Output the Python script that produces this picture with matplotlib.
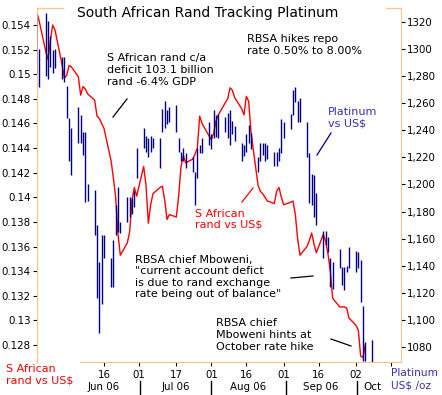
import numpy as np
import pandas as pd
import matplotlib
matplotlib.use("Agg")
import matplotlib.pyplot as plt
import matplotlib.dates as mdates
from matplotlib.lines import Line2D

# ---- data ----
dates = pd.bdate_range("2006-05-18", "2006-10-09")

rand_usd = [
    0.1551, 0.1545, 0.1519, 0.1512, 0.1527, 0.1540, 0.1536, 0.1508, 0.1497, 0.1499,
    0.1507, 0.1506, 0.1498, 0.1483, 0.1490, 0.1488, 0.1484, 0.1479, 0.1466, 0.1464,
    0.1460, 0.1456, 0.1430, 0.1416, 0.1400, 0.1370, 0.1353, 0.1363, 0.1372, 0.1398,
    0.1408, 0.1401,
    0.1425, 0.1410, 0.1379, 0.1394, 0.1403, 0.1408, 0.1409, 0.1398, 0.1382, 0.1386,
    0.1384, 0.1401, 0.1425, 0.1434, 0.1428, 0.1431, 0.1435, 0.1440, 0.1466, 0.1460,
    0.1450,
    0.1447, 0.1452, 0.1462, 0.1467, 0.1477, 0.1480, 0.1489, 0.1487, 0.1481, 0.1472,
    0.1467, 0.1482, 0.1478, 0.1453, 0.1410, 0.1405, 0.1403, 0.1400, 0.1397, 0.1395,
    0.1405, 0.1408, 0.1400,
    0.1394, 0.1396, 0.1397, 0.1386, 0.1366, 0.1353, 0.1360, 0.1365, 0.1371, 0.1362,
    0.1355, 0.1370, 0.1364, 0.1354, 0.1340, 0.1318, 0.1311, 0.1311, 0.1311, 0.1310,
    0.1302,
    0.1296, 0.1292, 0.1271, 0.1270, 0.1280, np.nan,
]

plat_high = [
    1327, 1300, 1327, 1321, 1310, 1299, 1300, 1294, 1294, 1273,
    1249, 1242, 1257, 1251, 1239, 1239, 1200, 1196, 1170, 1143, 1163, 1163,
    1146, 1159, 1185, 1198, 1172, 1191, 1191, 1190, 1195, 1227,
    1242, 1236, 1234, 1236, 1234, 1234, 1256, 1262, 1255, 1257, 1259, 1234,
    1224, 1227, 1223, 1220, 1209, 1227, 1229, 1234, 1246,
    1237, 1255, 1251, 1252, 1250, 1253, 1255, 1247, 1243, 1231, 1229, 1237,
    1244, 1238, 1220, 1231, 1231, 1231, 1229, 1224, 1224, 1227, 1248,
    1246, 1252, 1270, 1272, 1262, 1264, 1246, 1223, 1208, 1207, 1194, 1166,
    1166, 1161, 1146, 1143, 1152, 1139, 1139, 1140, 1154,
    1151, 1150, 1144, 1110, 1084, 1085,
]
plat_low = [
    1282, 1272, 1280, 1278, 1287, 1282, 1286, 1278, 1276, 1249,
    1217, 1207, 1231, 1231, 1222, 1187, 1188, 1163, 1116, 1090, 1112, 1146,
    1124, 1124, 1163, 1165, 1164, 1172, 1176, 1178, 1183, 1205,
    1227, 1224, 1220, 1224, 1227, 1212, 1239, 1242, 1245, 1246, 1239, 1224,
    1217, 1217, 1212, 1209, 1185, 1205, 1223, 1223, 1229,
    1226, 1234, 1235, 1234, 1239, 1234, 1229, 1237, 1232, 1217, 1221, 1224,
    1231, 1226, 1209, 1217, 1222, 1217, 1219, 1214, 1214, 1217, 1223,
    1234, 1241, 1251, 1261, 1246, 1246, 1220, 1186, 1185, 1176, 1170, 1146,
    1155, 1150, 1124, 1123, 1138, 1126, 1122, 1135, 1138,
    1135, 1138, 1113, 1070, 1070, 1068,
]

left_ticks = [0.154, 0.152, 0.150, 0.148, 0.146, 0.144, 0.142, 0.140,
              0.138, 0.136, 0.134, 0.132, 0.130, 0.128]
left_labels = ["0.154", "0.152", "0.15", "0.148", "0.146", "0.144", "0.142", "0.14",
               "0.138", "0.136", "0.134", "0.132", "0.13", "0.128"]
right_ticks = [1320, 1300, 1280, 1260, 1240, 1220, 1200, 1180, 1160, 1140, 1120, 1100, 1080]
right_labels = ["1320", "1300", "1,280", "1,260", "1,240", "1,220", "1,200",
                "1,180", "1,160", "1,140", "1,120", "1,100", "1080"]
day_ticks = ["2006-06-16", "2006-07-01", "2006-07-17", "2006-08-01", "2006-08-16",
             "2006-09-01", "2006-09-16", "2006-10-02", "2006-10-17"]
day_labels = ["16", "01", "17", "01", "16", "01", "16", "02", ""]
months = ["Jun 06", "Jul 06", "Aug 06", "Sep 06", "Oct"]

# ---- style ----
W, H = 442, 395
ORANGE = "#FBC48C"
RED = "#FF0000"
NAVY = "#000080"
BLUE_TXT = "#3333B0"
FS = 8      # annotation text
TFS = 7.4   # tick / axis labels


def fx(x):
    return x / W


def fy(y):
    return 1 - y / H


fig = plt.figure(figsize=(W / 100, H / 100), dpi=100)
ax = fig.add_axes([fx(37), fy(362), (401 - 37) / W, (362 - 8) / H])
ax2 = ax.twinx()

xd = mdates.date2num(dates)
ax.plot(xd, rand_usd, color=RED, lw=1.0)
ax2.vlines(xd, plat_low, plat_high, color=NAVY, lw=1.0)

jun16 = mdates.date2num(pd.Timestamp("2006-06-16"))
ppd = 252 / 108.0
ax.set_xlim(jun16 - 67 / ppd, jun16 + 297 / ppd)
ax.set_ylim(0.154 - 337 / 12310, 0.154 + 17 / 12310)
ax2.set_ylim(1320 - 340 / 1.354, 1320 + 14 / 1.354)

ax.set_yticks(left_ticks)
ax.set_yticklabels(left_labels)
ax2.set_yticks(right_ticks)
ax2.set_yticklabels(right_labels)
ax.set_xticks(mdates.date2num(pd.to_datetime(day_ticks)))
ax.set_xticklabels(day_labels)

ax.tick_params(axis="y", direction="out", length=3, width=0.8, pad=1.5, labelsize=TFS)
ax2.tick_params(axis="y", direction="out", length=3, width=0.8, pad=1.5, labelsize=TFS)
ax.tick_params(axis="x", direction="out", length=3, width=0.8, pad=3, labelsize=TFS)

for s in ["top", "right"]:
    ax.spines[s].set_visible(False)
for s in ["top", "left", "bottom"]:
    ax2.spines[s].set_visible(False)
ax.spines["left"].set_color(ORANGE)
ax2.spines["right"].set_color(ORANGE)
ax.spines["bottom"].set_color(ORANGE)
ax.spines["bottom"].set_bounds(jun16 - 24 / ppd, jun16 + 297 / ppd)

# partial top frame
for x0, x1 in [(37, 63), (386, 401)]:
    fig.add_artist(Line2D([fx(x0), fx(x1)], [fy(8), fy(8)], color=ORANGE, lw=1,
                          transform=fig.transFigure))

# month labels and separators under the day labels
for x, m in zip([104, 176, 248, 321, 372], months):
    fig.text(fx(x), fy(387), m, ha="center", va="center", fontsize=TFS)
for x in [140, 211, 286, 357]:
    fig.add_artist(Line2D([fx(x), fx(x)], [fy(381), fy(394)], color="black", lw=1,
                          transform=fig.transFigure))

# texts
fig.text(fx(77), fy(13), "South African Rand Tracking Platinum", fontsize=10,
         va="center", ha="left")
fig.text(fx(107), fy(70), "S African rand c/a\ndeficit 103.1 billion\nrand -6.4% GDP",
         fontsize=FS, va="center", ha="left", linespacing=1.2)
fig.text(fx(247), fy(45), "RBSA hikes repo\nrate 0.50% to 8.00%",
         fontsize=FS, va="center", ha="left", linespacing=1.2)
fig.text(fx(328), fy(117.5), "Platinum\nvs US$", color=BLUE_TXT,
         fontsize=FS, va="center", ha="left", linespacing=1.2)
fig.text(fx(195), fy(219.5), "S African\nrand vs US$", color=RED,
         fontsize=FS, va="center", ha="left", linespacing=1.1)
fig.text(fx(135), fy(277),
         "RBSA chief Mboweni,\n\"current account defict\nis due to rand exchange\n"
         "rate being out of balance\"",
         fontsize=FS, va="center", ha="left", linespacing=1.2)
fig.text(fx(216), fy(335), "RBSA chief\nMboweni hints at\nOctober rate hike",
         fontsize=FS, va="center", ha="left", linespacing=1.2)
fig.text(fx(6), fy(375), "S African\nrand vs US$", color=RED,
         fontsize=FS, va="center", ha="left", linespacing=1.2)
fig.text(fx(391), fy(379), "Platinum\nUS$ /oz", color=BLUE_TXT,
         fontsize=7.6, va="center", ha="left", linespacing=1.3)

# pointer lines
for (x0, y0, x1, y1, c) in [(127, 99, 113, 117, "black"),
                            (331, 133, 317, 155, NAVY),
                            (253, 188, 242, 202, RED),
                            (291, 278, 313, 276, "black"),
                            (331, 339, 351, 346, "black")]:
    fig.add_artist(Line2D([fx(x0), fx(x1)], [fy(y0), fy(y1)], color=c, lw=0.9,
                          transform=fig.transFigure))

fig.savefig("out.png", dpi=100)
